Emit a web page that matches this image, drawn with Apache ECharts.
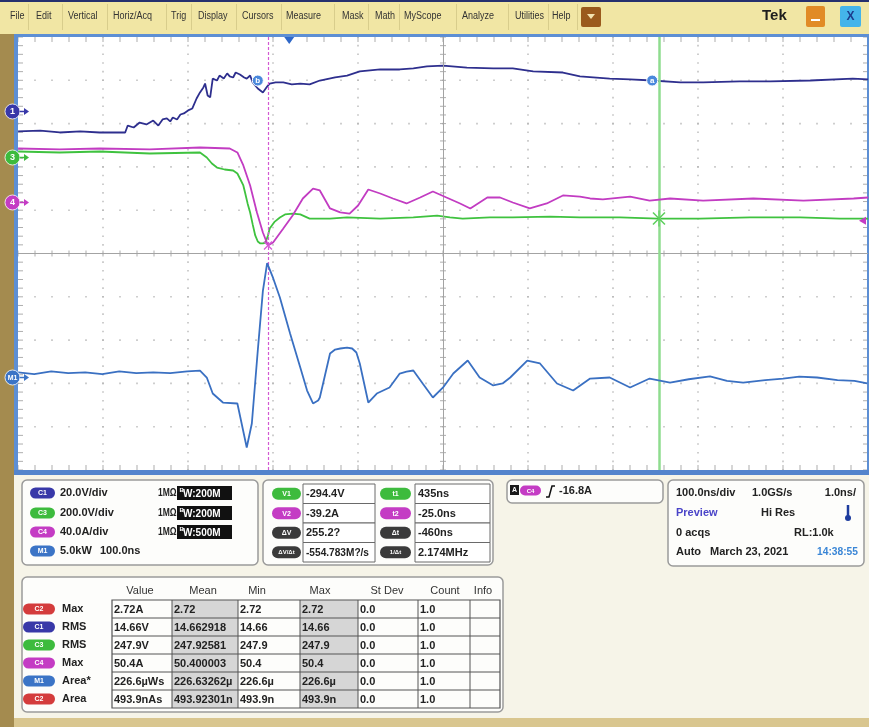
<!DOCTYPE html>
<html><head><meta charset="utf-8">
<script src="https://cdn.jsdelivr.net/npm/echarts@6/dist/echarts.min.js"></script>
<style>html,body{margin:0;padding:0;background:#f6f4e8;}#c{width:869px;height:727px;}</style>
</head><body><div id="c"></div>
<script>
// ---------------- DATA ----------------
// time axis (ns), 100 ns/div, trigger at t = 0
const timeRange = [-319.1, 680.9];
// channel vertical settings: scale per division and ground offset (divisions above screen centre)
const chanNames = ['C1', 'C3', 'C4', 'M1'];
const chanScale = [20, 200, 40, 5];          // V/div, V/div, A/div, kW/div
const chanOffset = [3.28, 2.217, 1.178, -2.864];

const c1Time = [-319,-293,-270,-246,-223,-193,-190,-183,-176,-168,-160,-154,-149,-144,-140,-137,-132,-128,-124,-119,-114,-109,-105,-101,-99,-96,-93,-90,-85,-82,-77,-73,-70,-66,-63,-58,-53,-50,-46,-43,-37,-31,-26,-23,-16,-7,3,13,24,36,54,68,83,107,130,146,162,181,209,240,263,287,322,342,377,401,427,460,487,530,566,613,663,681];
const c1Volts = [-9.2,-8.8,-9.7,-9.2,-9.7,-9.7,-6.5,-7.4,-5.1,-6.0,-4.2,-6.5,-3.7,-3.2,-4.6,-2.8,-3.7,-1.4,-0.9,0.5,1.4,6.0,8.8,11.1,12.9,7.4,6.5,15.2,14.3,16.6,15.2,17.6,16.2,15.7,18.0,17.1,15.7,15.2,16.6,13.4,10.6,8.8,11.5,12.9,13.4,13.4,12.5,12.9,12.5,14.3,15.7,16.6,18.5,19.4,19.4,19.9,20.8,21.2,20.3,19.9,19.9,18.5,18.0,16.2,15.2,14.8,14.3,13.4,13.4,13.9,13.9,14.3,15.2,14.8];

const c3Time = [-319,-270,-223,-164,-105,-97,-91,-85,-76,-66,-61,-58,-54,-52,-49,-46,-43,-40,-37,-34,-31,-28,-25,-23,-17,-11,-5,4,13,24,48,68,107,146,174,189,204,236,263,307,342,389,434,483,542,601,648,681];
const c3Volts = [27.7,23,27.7,18.5,23,0,-27.7,-46.2,-55.4,-60,-74,-97,-129,-162,-212,-254,-309,-360,-388,-397,-397,-393,-360,-328,-296,-277,-263,-259,-263,-282,-282,-277,-282,-277,-268,-277,-282,-277,-277,-273,-277,-277,-282,-282,-277,-277,-282,-282];

const c4Time = [-319,-270,-223,-164,-105,-70,-61,-54,-46,-38,-31,-25,-19,-7,4,16,28,36,48,60,71,81,93,107,122,138,154,169,185,201,213,233,248,263,283,303,322,342,354,369,401,424,448,487,546,605,664,681];
const c4Amps = [49.9,49.0,49.9,49.0,50.8,49.9,46.2,34.2,15.7,-9.2,-27.7,-39.7,-37.0,-24.0,-12.0,3.7,12.9,11.1,-5.5,-9.2,-10.2,-2.8,12.0,8.3,3.7,-0.9,4.6,10.2,4.6,-0.9,-5.5,4.6,4.6,0,-5.5,-0.9,6.5,5.5,3.7,2.8,5.5,1.8,3.7,1.8,3.7,1.8,3.7,4.6];

const m1Time = [-319,-300,-280,-260,-240,-220,-200,-180,-160,-140,-120,-105,-97,-90,-78,-61,-56,-50,-44,-37,-31,-26,-19,-11,1,13,21,28,34,36,42,48,54,60,68,74,79,83,93,103,118,130,138,146,157,169,181,193,210,224,240,251,260,280,295,315,334,354,377,401,424,448,470,495,515,534,560,581,600,621,645,665,680];
const m1kW = [0.6,0.4,0.7,0.5,0.6,0.4,0.7,0.5,0.6,0.5,0.7,0.8,0,-1.85,-2.89,-3.0,-5.31,-8.08,-5.31,3.12,10.0,13.2,11.5,9.24,5.08,1.15,-1.5,-3.0,-2.66,-2.31,0.23,2.77,3.23,3.35,3.46,3.35,2.89,1.62,-2.89,-1.85,-1.15,0.46,0.69,0.81,-0.69,-2.31,-1.15,0.46,1.96,0,-0.92,-0.69,0,1.96,1.62,-0.69,-1.5,-0.12,0,-1.15,-0.12,-0.58,-0.2,0.12,-0.4,-0.58,-0.3,-0.12,0.1,0,-0.3,-0.4,-0.69];

// cursors / trigger
const cursorT1 = 435, cursorT2 = -25;
const cursorV1 = -282, cursorV2 = -39.7;
const trigLevel = -16.8;   // A on C4
const markerA = [427, 14.3], markerB = [-37, 14.3];

// texts
const menuItems = ['File','Edit','Vertical','Horiz/Acq','Trig','Display','Cursors','Measure','Mask','Math','MyScope','Analyze','Utilities','Help'];
const chanScaleText = ['20.0V/div','200.0V/div','40.0A/div','5.0kW'];
const chanImpText = ['1M\u03A9','1M\u03A9','1M\u03A9',''];
const chanBwText = [':200M',':200M',':500M',''];
const cursorLeftLbl = ['V1','V2','\u0394V','\u0394V/\u0394t'];
const cursorLeftVal = ['-294.4V','-39.2A','255.2?','-554.783M?/s'];
const cursorRightLbl = ['t1','t2','\u0394t','1/\u0394t'];
const cursorRightVal = ['435ns','-25.0ns','-460ns','2.174MHz'];
const measHead = ['Value','Mean','Min','Max','St Dev','Count','Info'];
const measSrc = ['C2','C1','C3','C4','M1','C2'];
const measType = ['Max','RMS','RMS','Max','Area*','Area'];
const measValue = ['2.72A','14.66V','247.9V','50.4A','226.6\u00B5Ws','493.9nAs'];
const measMean = ['2.72','14.662918','247.92581','50.400003','226.63262\u00B5','493.92301n'];
const measMin = ['2.72','14.66','247.9','50.4','226.6\u00B5','493.9n'];
const measMax = ['2.72','14.66','247.9','50.4','226.6\u00B5','493.9n'];
const measStd = ['0.0','0.0','0.0','0.0','0.0','0.0'];
const measCount = ['1.0','1.0','1.0','1.0','1.0','1.0'];

// ---------------- STYLE ----------------
const colC = {C1:'#2e2f8e', C2:'#d03a3a', C3:'#3fc23f', C4:'#c23cc2', M1:'#3a70c2', D:'#3b3b3b'};
const badgeC = {C1:'#3838a8', C2:'#d43c3c', C3:'#3dbb3d', C4:'#c43cc4', M1:'#3b74c6', D:'#3a3a3a'};
const traceColors = [colC.C1, colC.C3, colC.C4, colC.M1];
const FONT = '"Liberation Sans", Arial, sans-serif';
const G = {left:18, top:37, width:850, height:433};

const chart = echarts.init(document.getElementById('c'), null, {renderer:'canvas', width:869, height:727});

// grid decoration (divisions)
const dots = [], ticks = [];
for (let i = -25; i <= 25; i++) {
  const p = i / 5;
  for (let k = -4; k <= 4; k++) {
    if (k === 0) continue;
    dots.push([k, p]); dots.push([p, k]);
  }
  ticks.push({value:[p, 0], symbolSize:[1, 6]});
  ticks.push({value:[0, p], symbolSize:[6, 1]});
  ticks.push({value:[p, 5], symbolSize:[1, 5], symbolOffset:[0, 2.5]});
  ticks.push({value:[p, -5], symbolSize:[1, 5], symbolOffset:[0, -2.5]});
  ticks.push({value:[-5, p], symbolSize:[5, 1], symbolOffset:[2.5, 0]});
  ticks.push({value:[5, p], symbolSize:[5, 1], symbolOffset:[-2.5, 0]});
}

const yAxes = [{gridIndex:0, type:'value', min:-5, max:5, show:false}];
for (let k = 0; k < 4; k++) {
  yAxes.push({gridIndex:0, type:'value', show:false,
    min:(-5 - chanOffset[k]) * chanScale[k], max:(5 - chanOffset[k]) * chanScale[k]});
}
const chanData = [[c1Time, c1Volts], [c3Time, c3Volts], [c4Time, c4Amps], [m1Time, m1kW]];

const series = [
  {type:'scatter', xAxisIndex:1, yAxisIndex:0, data:dots, symbol:'rect', symbolSize:1.6,
   itemStyle:{color:'#b3b3b3'}, silent:true, z:1,
   markLine:{silent:true, symbol:['none','none'], label:{show:false},
     lineStyle:{color:'#a3a3a3', width:1, type:'solid'}, data:[{xAxis:0},{yAxis:0}]}},
  {type:'scatter', xAxisIndex:1, yAxisIndex:0, data:ticks, symbol:'rect',
   itemStyle:{color:'#9a9a9a'}, silent:true, z:1}
];
for (let k = 0; k < 4; k++) {
  const [tt, vv] = chanData[k];
  const s = {type:'line', name:chanNames[k], xAxisIndex:0, yAxisIndex:k + 1,
    data:tt.map((t, i) => [t, vv[i]]), showSymbol:false, symbol:'none',
    lineStyle:{color:traceColors[k], width:1.8}, z:3 + k, silent:true};
  if (k === 2) s.markLine = {silent:true, symbol:['none','none'], label:{show:false},
    lineStyle:{color:'#d35ad3', width:1.2, type:[3, 2]}, data:[{xAxis:cursorT2}]};
  if (k === 1) s.markLine = {silent:true, symbol:['none','none'], label:{show:false},
    lineStyle:{color:'#8fdc8f', width:2.5, type:'solid'}, data:[{xAxis:cursorT1}]};
  series.push(s);
}

chart.setOption({
  animation:false,
  backgroundColor:'#f6f4e8',
  grid:{left:G.left, top:G.top, width:G.width, height:G.height, show:true, backgroundColor:'#ffffff', borderWidth:0},
  xAxis:[{gridIndex:0, type:'value', min:timeRange[0], max:timeRange[1], show:false},
         {gridIndex:0, type:'value', min:-5, max:5, show:false}],
  yAxis:yAxes,
  series:series
});

// ---------------- GRAPHIC UI ----------------
const els = [];
function R(x, y, w, h, fill, stroke, lw, r, z) {
  els.push({type:'rect', shape:{x, y, width:w, height:h, r:r || 0},
    style:{fill:fill || 'none', stroke:stroke || 'none', lineWidth:lw || 0}, z:z || 1, silent:true});
}
function T(str, x, y, font, fill, align, z, sx) {
  els.push({type:'text', x, y, scaleX:sx || 1, style:{text:str, font:font, fill:fill || '#222',
    textAlign:align || 'left', textVerticalAlign:'middle', align:align || 'left', verticalAlign:'middle'},
    z:z || 5, silent:true});
}
function L(x1, y1, x2, y2, stroke, lw, z, dash) {
  els.push({type:'line', shape:{x1, y1, x2, y2}, style:{stroke, lineWidth:lw || 1, lineDash:dash || null}, z:z || 2, silent:true});
}
function PL(pts, stroke, lw, z) {
  els.push({type:'polyline', shape:{points:pts}, style:{stroke, lineWidth:lw || 1, fill:'none'}, z:z || 5, silent:true});
}
function PG(pts, fill, z) {
  els.push({type:'polygon', shape:{points:pts}, style:{fill}, z:z || 5, silent:true});
}
function C(cx, cy, r, fill, stroke, lw, z) {
  els.push({type:'circle', shape:{cx, cy, r}, style:{fill, stroke:stroke || 'none', lineWidth:lw || 0}, z:z || 5, silent:true});
}
function badge(lbl, x, y, w, h, color, fs) {
  R(x, y - h / 2, w, h, color, 'none', 0, h / 2, 4);
  T(lbl, x + w / 2, y + 0.5, 'bold ' + (fs || 7) + 'px ' + FONT, '#ffffff', 'center', 5);
}

// menu bar
R(0, 0, 869, 34, '#f1e6a4', 'none', 0, 0, 1);
R(0, 0, 869, 2, '#26306e', 'none', 0, 0, 2);
const menuX = [10, 36, 68, 113, 171, 198, 242, 286, 342, 375, 404, 462, 515, 552];
const menuSep = [28, 62, 107, 166, 191, 236, 281, 334, 368, 399, 456, 508, 548, 577];
menuItems.forEach((m, i) => T(m, menuX[i], 16, '10px ' + FONT, '#333', 'left', 5, 0.9));
menuSep.forEach(x => L(x + 0.5, 4, x + 0.5, 30, '#d8cd8c', 1, 2));
R(581, 7, 20, 20, '#9a5a1c', 'none', 0, 2, 3);
PG([[587, 14], [595, 14], [591, 19]], '#f3e3b0', 4);
T('Tek', 762, 16, 'bold 15px ' + FONT, '#1e1e1e', 'left');
R(806, 6, 19, 21, '#e18b26', 'none', 0, 2, 3);
R(811, 19, 9, 2, '#ffffff', 'none', 0, 0, 4);
R(840, 6, 21, 21, '#44b4ea', 'none', 0, 2, 3);
T('X', 850.5, 17, 'bold 12px ' + FONT, '#1c3c8c', 'center');

// frame
R(0, 34, 14, 693, '#a48b4f', 'none', 0, 0, 1);
R(14, 34, 4, 440, '#5d8fd4', 'none', 0, 0, 2);
R(14, 34, 855, 3, '#5d8fd4', 'none', 0, 0, 2);
R(867, 34, 2, 440, '#5d8fd4', 'none', 0, 0, 2);
R(14, 470, 855, 5, '#5384cc', 'none', 0, 0, 2);
R(14, 718, 855, 9, '#d9c68f', 'none', 0, 0, 1);

// overlays on plot (positions from the chart scales)
const px = t => chart.convertToPixel({xAxisIndex:0}, t);
const py = (k, v) => chart.convertToPixel({yAxisIndex:k + 1}, v);
const gLabels = ['1', '3', '4', 'M1'];
for (let k = 0; k < 4; k++) {
  const y = py(k, 0);
  const col = badgeC[chanNames[k]];
  C(12.5, y, 7.5, col, '#ffffff', 0.8, 20);
  T(gLabels[k], 12.5, y + 0.5, 'bold ' + (k === 3 ? 7 : 9) + 'px ' + FONT, '#ffffff', 'center', 21);
  L(20, y, 25, y, col, 1.5, 20);
  PG([[24, y - 3.5], [29, y], [24, y + 3.5]], col, 20);
}
// trigger position and level
const xt = px(0);
PG([[xt - 5, 37], [xt + 5, 37], [xt, 44]], '#2f68c8', 20);
const yl = py(2, trigLevel);
PG([[866, yl - 4], [866, yl + 4], [859, yl]], '#c43cc4', 20);
// cursor markers
const ax = px(markerA[0]), ay = py(0, markerA[1]);
C(ax, ay, 5.5, '#4a88dc', '#ffffff', 1, 20);
T('a', ax, ay, 'bold 8px ' + FONT, '#ffffff', 'center', 21);
const bx = px(markerB[0]), by = py(0, markerB[1]);
C(bx, by, 5.5, '#4a88dc', '#ffffff', 1, 20);
T('b', bx, by, 'bold 8px ' + FONT, '#ffffff', 'center', 21);
const gx = px(cursorT1), gy = py(1, cursorV1);
L(gx - 6, gy - 6, gx + 6, gy + 6, '#5ccf5c', 1.5, 20);
L(gx - 6, gy + 6, gx + 6, gy - 6, '#5ccf5c', 1.5, 20);
L(gx, gy - 8, gx, gy + 8, '#5ccf5c', 1.2, 20);
const mx = px(cursorT2), my = py(2, cursorV2);
L(mx - 4, my - 4, mx + 4, my + 4, '#d35ad3', 1.2, 20);
L(mx - 4, my + 4, mx + 4, my - 4, '#d35ad3', 1.2, 20);

// ------------- bottom panels -------------
const B11 = 'bold 11px ' + FONT;
const rowY = [493, 513, 532, 551];
// panel 1: channels
R(22, 480, 236, 85, '#fdfdfb', '#9a9a9a', 1.5, 5, 2);
const chKeys = ['C1', 'C3', 'C4', 'M1'];
for (let i = 0; i < 4; i++) {
  badge(chKeys[i], 30, rowY[i], 25, 11, badgeC[chKeys[i]]);
  T(chanScaleText[i], 60, rowY[i], B11, '#222');
  if (i < 3) {
    T(chanImpText[i], 158, rowY[i], 'bold 10px ' + FONT, '#222', 'left', 5, 0.85);
    R(177, rowY[i] - 7, 55, 14, '#111111', 'none', 0, 0, 3);
    T('B', 179.5, rowY[i] - 3, 'bold 6px ' + FONT, '#ffffff', 'left', 5);
    T('W' + chanBwText[i], 183, rowY[i] + 1, 'bold 10px ' + FONT, '#ffffff', 'left', 5);
  } else {
    T('100.0ns', 100, rowY[i], B11, '#222');
  }
}
// panel 2: cursors
R(263, 480, 230, 85, '#fdfdfb', '#9a9a9a', 1.5, 5, 2);
const cLeftCol = ['C3', 'C4', 'D', 'D'];
const cRightCol = ['C3', 'C4', 'D', 'D'];
for (let i = 0; i < 4; i++) {
  const y = 484 + i * 19.5;
  badge(cursorLeftLbl[i], 272, y + 9.75, 29, 12, badgeC[cLeftCol[i]], i === 3 ? 6 : 7);
  R(303, y, 72, 19.5, '#ffffff', '#6a6a6a', 1, 0, 3);
  T(cursorLeftVal[i], 306, y + 10, B11, '#222', 'left', 5, i === 3 ? 0.92 : 1);
  badge(cursorRightLbl[i], 380, y + 9.75, 31, 12, badgeC[cRightCol[i]], i === 3 ? 6 : 7);
  R(415, y, 75, 19.5, '#ffffff', '#6a6a6a', 1, 0, 3);
  T(cursorRightVal[i], 418, y + 10, B11, '#222', 'left', 5);
}
// panel 3: trigger
R(507, 480, 156, 23, '#fdfdfb', '#9a9a9a', 1.5, 5, 2);
R(510, 485, 9, 10, '#1a1a1a', 'none', 0, 0, 3);
T('A', 514.5, 490.5, 'bold 7px ' + FONT, '#ffffff', 'center', 5);
badge('C4', 520, 490.5, 21, 10, badgeC.C4, 6);
PL([[546, 497], [549, 497], [552, 486], [555, 486]], '#111', 1.5, 5);
T('-16.8A', 559, 491, B11, '#222');
// panel 4: horizontal
R(668, 480, 196, 86, '#fdfdfb', '#9a9a9a', 1.5, 5, 2);
const hy = [493, 513, 533, 552];
T('100.0ns/div', 676, hy[0], B11, '#222');
T('1.0GS/s', 752, hy[0], B11, '#222');
T('1.0ns/', 856, hy[0], B11, '#222', 'right');
T('Preview', 676, hy[1], B11, '#4a44c8');
T('Hi Res', 761, hy[1], B11, '#222');
L(848, 505, 848, 516, '#1d3c9e', 2.5, 5);
C(848, 518, 3, '#1d3c9e', 'none', 0, 5);
T('0 acqs', 676, hy[2], B11, '#222');
T('RL:1.0k', 794, hy[2], B11, '#222');
T('Auto', 676, hy[3], B11, '#222');
T('March 23, 2021', 710, hy[3], B11, '#222');
T('14:38:55', 817, hy[3], B11, '#3a86d6', 'left', 5, 0.93);
// panel 5: measurements
R(22, 577, 481, 135, '#fdfdfb', '#9a9a9a', 1.5, 5, 2);
const colX = [112, 172, 238, 300, 358, 418, 470, 500];
const headX = [140, 203, 257, 320, 387, 445, 483];
measHead.forEach((h, i) => T(h, headX[i], 591, '11px ' + FONT, '#333', 'center'));
const tTop = 600, rowH = 18;
R(colX[1], tTop, colX[2] - colX[1], rowH * 6, '#d6d6d6', 'none', 0, 0, 3);
R(colX[3], tTop, colX[4] - colX[3], rowH * 6, '#d6d6d6', 'none', 0, 0, 3);
R(colX[0], tTop, colX[7] - colX[0], rowH * 6, 'none', '#555', 1.2, 0, 4);
for (let r = 1; r < 6; r++) L(colX[0], tTop + r * rowH, colX[7], tTop + r * rowH, '#555', 1, 4);
for (let c = 1; c < 7; c++) L(colX[c], tTop, colX[c], tTop + rowH * 6, '#555', 1, 4);
const cols = [measValue, measMean, measMin, measMax, measStd, measCount];
for (let r = 0; r < 6; r++) {
  const y = tTop + r * rowH + rowH / 2;
  badge(measSrc[r], 23, y, 32, 11, badgeC[measSrc[r]]);
  T(measType[r], 62, y, B11, '#222');
  cols.forEach((arr, c) => T(arr[r], colX[c] + 2, y + 0.5, B11, '#222', 'left', 5));
}

chart.setOption({graphic:{elements:els}});
</script>
</body></html>
